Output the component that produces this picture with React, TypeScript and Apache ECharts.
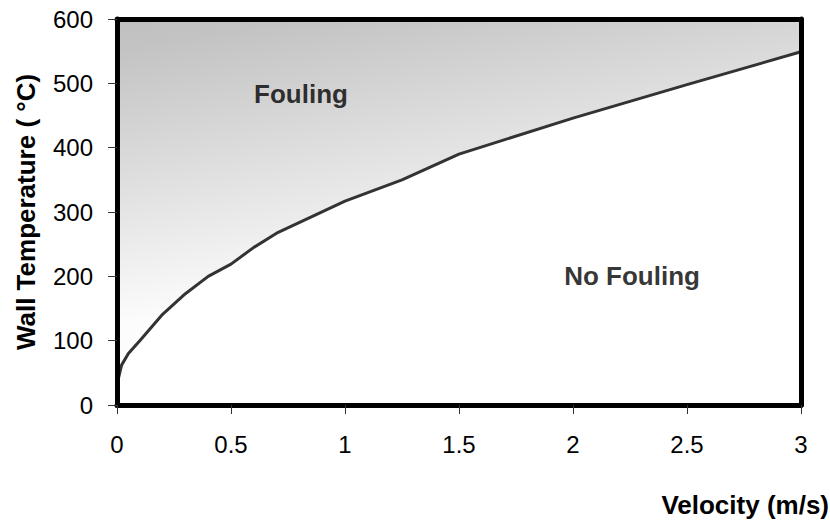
import React, { useEffect, useRef } from "react";
import * as echarts from "echarts";

const velocity = [0, 0.02, 0.05, 0.1, 0.2, 0.3, 0.4, 0.5, 0.6, 0.7, 0.85, 1.0, 1.25, 1.5, 2.0, 2.5, 3.0];
const temperature = [32, 62, 80, 100, 141, 173, 200, 219, 245, 267, 292, 317, 350, 390, 446, 498, 549];
const regionLabels = [
  { name: "Fouling", v: 0.807, t: 483 },
  { name: "No Fouling", v: 2.259, t: 200 },
];
const xTitle = "Velocity (m/s)";
const yTitle = "Wall Temperature ( \u00B0C)";

const FONT = "'Liberation Sans', Arial, sans-serif";

export default function App() {
  const ref = useRef<HTMLDivElement>(null);
  useEffect(() => {
    if (!ref.current) return;
    const chart = echarts.init(ref.current, undefined, { renderer: "svg" });
    const axisLine = { show: true, lineStyle: { color: "#000", width: 5 } };
    chart.setOption({
      animation: false,
      textStyle: { fontFamily: FONT },
      grid: {
        left: 117,
        right: 29,
        top: 19,
        bottom: 117,
        show: true,
        borderWidth: 0,
        backgroundColor: new echarts.graphic.LinearGradient(0, 0, 0.217, 0.73, [
          { offset: 0, color: "#c0c0c0" },
          { offset: 0.1, color: "#c3c3c3" },
          { offset: 1, color: "#fcfcfc" },
        ]),
      },
      xAxis: [
        {
          type: "value",
          min: 0,
          max: 3,
          interval: 0.5,
          z: 5,
          axisLine: { ...axisLine, onZero: false },
          axisTick: { show: true, length: 9, lineStyle: { color: "#333", width: 1 } },
          axisLabel: { color: "#000", fontSize: 24, margin: 27, fontFamily: FONT },
          splitLine: { show: false },
        },
        {
          type: "value",
          position: "top",
          min: 0,
          max: 3,
          z: 5,
          axisLine: { ...axisLine, onZero: false },
          axisTick: { show: false },
          axisLabel: { show: false },
          splitLine: { show: false },
        },
      ],
      yAxis: [
        {
          type: "value",
          min: 0,
          max: 600,
          interval: 100,
          z: 5,
          name: yTitle,
          nameLocation: "middle",
          nameGap: 78,
          nameTextStyle: { color: "#000", fontSize: 26, fontWeight: "bold", fontFamily: FONT },
          axisLine: { ...axisLine, onZero: false },
          axisTick: { show: true, length: 9, lineStyle: { color: "#333", width: 1 } },
          axisLabel: { color: "#000", fontSize: 24, margin: 24, fontFamily: FONT },
          splitLine: { show: false },
        },
        {
          type: "value",
          position: "right",
          min: 0,
          max: 600,
          z: 5,
          axisLine: { ...axisLine, onZero: false },
          axisTick: { show: false },
          axisLabel: { show: false },
          splitLine: { show: false },
        },
      ],
      series: [
        {
          type: "line",
          data: velocity.map((v, i) => [v, temperature[i]]),
          showSymbol: false,
          symbol: "none",
          smooth: false,
          lineStyle: { color: "#333", width: 3 },
          areaStyle: { color: "#ffffff", opacity: 1, origin: "start" },
          z: 2,
        },
        {
          type: "scatter",
          symbolSize: 0,
          data: regionLabels.map((d) => ({ name: d.name, value: [d.v, d.t] })),
          label: {
            show: true,
            position: "inside",
            formatter: (p: any) => p.name,
            color: "#000",
            fontSize: 26,
            fontWeight: "bold",
            fontFamily: FONT,
          },
          z: 3,
        },
      ],
      graphic: [
        {
          type: "text",
          right: 1,
          top: 492,
          style: {
            text: xTitle,
            fill: "#000",
            font: `bold 26px ${FONT}`,
          },
        },
      ],
    });
    return () => chart.dispose();
  }, []);
  return <div ref={ref} style={{ width: 830, height: 522, position: "absolute", left: 0, top: 0 }} />;
}
